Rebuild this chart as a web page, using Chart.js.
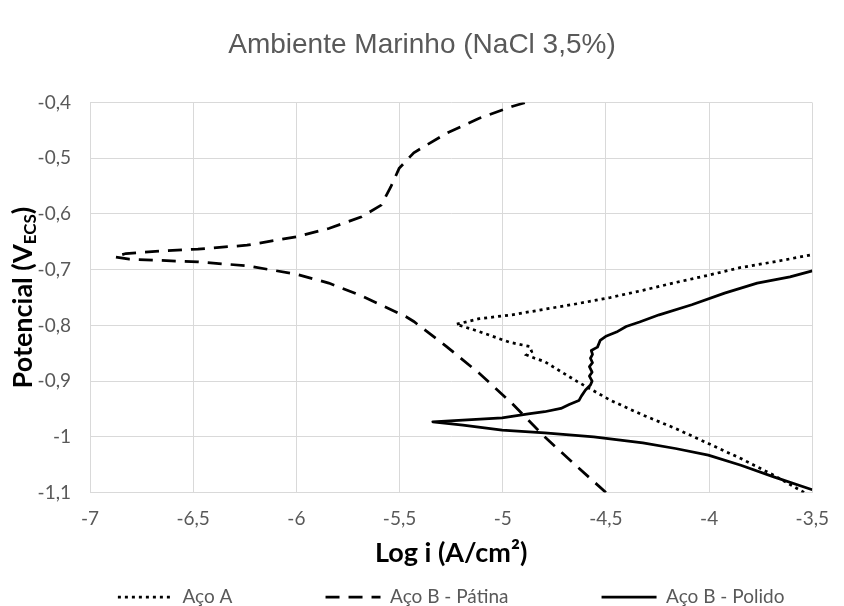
<!DOCTYPE html>
<html>
<head>
<meta charset="utf-8">
<script src="https://cdn.jsdelivr.net/npm/chart.js@4"></script>
<style>
  html, body { margin: 0; padding: 0; background: #fff; }
  #wrap { width: 844px; height: 606px; position: relative; }
</style>
</head>
<body>
<div id="wrap"><canvas id="chart"></canvas></div>
<script>
// curvas de polarização - log i (A/cm²) x potencial (V vs ECS)
const acoA_logi = [-3.54, -3.687, -3.846, -4.004, -4.163, -4.321, -4.48, -4.638, -4.797, -4.845, -4.884, -4.86, -4.868, -4.97, -5.114, -5.225,
  -5.114, -4.955, -4.797, -4.638, -4.48, -4.321, -4.163, -4.004, -3.846, -3.687, -3.5];
const acoA_pot = [-1.1, -1.069, -1.039, -1.012, -0.985, -0.961, -0.934, -0.901, -0.865, -0.859, -0.853, -0.847, -0.838, -0.83, -0.811, -0.798,
  -0.788, -0.781, -0.771, -0.761, -0.75, -0.737, -0.723, -0.71, -0.696, -0.686, -0.673];

const patina_logi = [-4.5, -4.638, -4.797, -4.955, -5.114, -5.272, -5.431, -5.47, -5.684, -5.843, -6.001, -6.239, -6.477, -6.81, -6.88,
  -6.826, -6.635, -6.477, -6.239, -6.001, -5.843, -5.684, -5.589, -5.542, -5.502, -5.431, -5.272, -5.114, -4.955, -4.75];
const patina_pot = [-1.1, -1.054, -1.0, -0.94, -0.886, -0.838, -0.793, -0.784, -0.747, -0.724, -0.708, -0.693, -0.686, -0.681, -0.677,
  -0.671, -0.666, -0.663, -0.656, -0.641, -0.626, -0.605, -0.584, -0.551, -0.518, -0.49, -0.455, -0.428, -0.407, -0.385];

const polido_logi = [-3.5, -3.687, -3.846, -4.004, -4.163, -4.321, -4.559, -4.797, -5.003, -5.193, -5.339,
  -5.193, -5.003, -4.876, -4.797, -4.718, -4.678, -4.631, -4.619, -4.599, -4.575, -4.567, -4.58, -4.567, -4.58, -4.565, -4.575, -4.565, -4.571,
  -4.541, -4.528, -4.497, -4.449, -4.402, -4.337, -4.242, -4.084, -3.925, -3.767, -3.608, -3.5];
const polido_pot = [-1.095, -1.072, -1.051, -1.033, -1.021, -1.011, -1.0, -0.993, -0.988, -0.979, -0.973,
  -0.97, -0.966, -0.959, -0.955, -0.949, -0.942, -0.935, -0.927, -0.916, -0.907, -0.9, -0.891, -0.884, -0.874, -0.867, -0.859, -0.852, -0.845,
  -0.839, -0.827, -0.819, -0.812, -0.802, -0.794, -0.781, -0.763, -0.742, -0.724, -0.713, -0.702];

const seriesNames = ['Aço A', 'Aço B - Pátina', 'Aço B - Polido'];

const toPoints = (xs, ys) => xs.map((x, i) => ({ x: x, y: ys[i] }));
const fmt = (v, d) => String(Number(v.toFixed(d))).replace('.', ',');

// título do eixo Y com subscrito (V_ECS)
const yTitlePlugin = {
  id: 'yTitle',
  afterDraw(chart) {
    const { ctx, chartArea } = chart;
    const main = 'bold 27px Lato', sub = 'bold 17px Lato';
    ctx.save();
    ctx.font = main;
    const w1 = ctx.measureText('Potencial (V').width;
    const w3 = ctx.measureText(')').width;
    ctx.font = sub;
    const w2 = ctx.measureText('ECS').width;
    const total = w1 + w2 + w3;
    ctx.translate(22, (chartArea.top + chartArea.bottom) / 2);
    ctx.rotate(-Math.PI / 2);
    ctx.fillStyle = '#000';
    ctx.textBaseline = 'alphabetic';
    let x = -total / 2;
    ctx.font = main;
    ctx.fillText('Potencial (V', x, 10);
    x += w1;
    ctx.font = sub;
    ctx.fillText('ECS', x, 14);
    x += w2;
    ctx.font = main;
    ctx.fillText(')', x, 10);
    ctx.restore();
  }
};

const common = {
  showLine: true,
  pointRadius: 0,
  pointHoverRadius: 0,
  pointStyle: 'line',
  borderColor: '#000',
  backgroundColor: '#000',
  borderWidth: 2.75,
  tension: 0,
  clip: 0
};

new Chart(document.getElementById('chart'), {
  type: 'scatter',
  plugins: [yTitlePlugin],
  data: {
    datasets: [
      Object.assign({}, common, { label: seriesNames[0], data: toPoints(acoA_logi, acoA_pot), borderDash: [3, 4], borderCapStyle: 'butt' }),
      Object.assign({}, common, { label: seriesNames[1], data: toPoints(patina_logi, patina_pot), borderDash: [14, 9] }),
      Object.assign({}, common, { label: seriesNames[2], data: toPoints(polido_logi, polido_pot), borderJoinStyle: 'round' })
    ]
  },
  options: {
    responsive: true,
    maintainAspectRatio: false,
    animation: false,
    layout: { padding: { left: 0, right: 0, top: 0, bottom: -10.5 } },
    plugins: {
      tooltip: { enabled: false },
      title: {
        display: true,
        text: 'Ambiente Marinho (NaCl 3,5%)',
        color: '#595959',
        font: { family: '"Liberation Sans", Arial, sans-serif', size: 28, weight: 'normal' },
        padding: { top: 28, bottom: 41 }
      },
      legend: {
        position: 'bottom',
        fullSize: false,
        labels: {
          usePointStyle: true,
          pointStyleWidth: 55,
          padding: 10,
          color: '#595959',
          font: { family: 'Lato', size: 19 },
          generateLabels(chart) {
            const items = Chart.defaults.plugins.legend.labels.generateLabels(chart);
            items.forEach((it, i) => {
              const ds = chart.data.datasets[it.datasetIndex];
              it.lineDash = ds.borderDash || [];
              it.lineWidth = ds.borderWidth;
              it.lineCap = 'butt';
              if (i < items.length - 1) it.text += '\u2003\u2003\u2003\u2003\u2003\u2002\u2009';
            });
            return items;
          }
        }
      }
    },
    scales: {
      x: {
        type: 'linear',
        min: -7,
        max: -3.5,
        afterFit(scale) { scale.height = 85; },
        ticks: {
          stepSize: 0.5,
          padding: 15,
          color: '#595959',
          font: { family: 'Lato', size: 19 },
          callback: v => fmt(v, 1)
        },
        grid: { color: '#d9d9d9', lineWidth: 1, drawTicks: false },
        border: { color: '#d9d9d9' },
        title: {
          display: true,
          text: 'Log i (A/cm²)',
          color: '#000',
          font: { family: 'Lato', size: 27, weight: 'bold' },
          padding: { top: 0, bottom: 8 }
        }
      },
      y: {
        type: 'linear',
        min: -1.1,
        max: -0.4,
        afterFit(scale) { scale.width = 90; },
        ticks: {
          stepSize: 0.1,
          padding: 19,
          color: '#595959',
          font: { family: 'Lato', size: 19 },
          callback: v => fmt(v, 1)
        },
        grid: { color: '#d9d9d9', lineWidth: 1, drawTicks: false },
        border: { color: '#d9d9d9' }
      },
      // margem direita (sem marcas), mantém o título centrado na página
      yMargin: {
        type: 'linear',
        position: 'right',
        min: 0,
        max: 1,
        afterFit(scale) { scale.width = 18; },
        ticks: { display: false },
        grid: { display: false, drawTicks: false },
        border: { display: false }
      }
    }
  }
});
</script>
</body>
</html>
